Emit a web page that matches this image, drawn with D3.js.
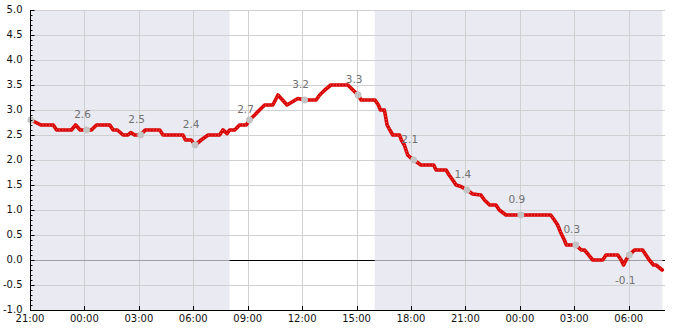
<!DOCTYPE html>
<html>
<head>
<meta charset="utf-8">
<script src="https://cdn.jsdelivr.net/npm/d3@7"></script>
<style>
  html, body { margin: 0; padding: 0; background: #fff; }
  svg { display: block; font-family: "DejaVu Sans", sans-serif; }
</style>
</head>
<body>
<svg id="chart" width="685" height="330"></svg>
<script>
// ---- data ----
const lineTimes = [
  "01-01 21:03","01-01 21:36","01-01 22:17","01-01 22:28","01-01 23:17","01-01 23:31","01-01 23:46",
  "01-02 00:23","01-02 00:40","01-02 01:24","01-02 01:35","01-02 01:49","01-02 02:08","01-02 02:24",
  "01-02 02:33","01-02 02:46","01-02 03:06","01-02 03:21","01-02 04:09","01-02 04:20","01-02 05:26",
  "01-02 05:34","01-02 05:53","01-02 06:06","01-02 06:26","01-02 06:49","01-02 07:27","01-02 07:38",
  "01-02 07:52","01-02 08:00","01-02 08:17","01-02 08:33","01-02 08:55","01-02 09:06","01-02 09:23",
  "01-02 09:39","01-02 09:56","01-02 10:23","01-02 10:40","01-02 11:10","01-02 11:46","01-02 12:08",
  "01-02 12:46","01-02 12:58","01-02 13:15","01-02 13:35","01-02 14:31","01-02 15:05","01-02 15:15",
  "01-02 16:01","01-02 16:12","01-02 16:19","01-02 16:32","01-02 16:35","01-02 16:41","01-02 16:50",
  "01-02 17:00","01-02 17:22","01-02 17:28","01-02 17:38","01-02 17:49","01-02 17:58","01-02 18:09",
  "01-02 18:33","01-02 19:15","01-02 19:23","01-02 19:56","01-02 20:06","01-02 20:18","01-02 20:29",
  "01-02 20:45","01-02 21:05","01-02 21:24","01-02 21:51","01-02 22:03","01-02 22:20","01-02 22:41",
  "01-02 22:52","01-02 23:14",
  "01-03 01:42","01-03 01:54","01-03 02:05","01-03 02:15","01-03 02:27","01-03 02:34","01-03 03:05",
  "01-03 03:23","01-03 03:34","01-03 04:01","01-03 04:34","01-03 04:45","01-03 05:24","01-03 05:35",
  "01-03 05:43","01-03 05:51","01-03 06:02","01-03 06:19","01-03 06:46","01-03 06:57","01-03 07:08",
  "01-03 07:22","01-03 07:30","01-03 07:51"
];
const lineValues = [
  2.8,2.7,2.7,2.6,2.6,2.7,2.6,
  2.6,2.7,2.7,2.6,2.6,2.5,2.5,
  2.55,2.5,2.5,2.6,2.6,2.5,2.5,
  2.4,2.4,2.3,2.4,2.5,2.5,2.6,
  2.53,2.6,2.6,2.7,2.7,2.8,2.9,
  3.0,3.1,3.1,3.3,3.1,3.23,3.2,
  3.2,3.3,3.4,3.5,3.5,3.3,3.2,
  3.2,3.1,3.0,3.0,2.9,2.7,2.6,
  2.5,2.5,2.4,2.3,2.1,2.05,2.0,
  1.9,1.9,1.8,1.8,1.7,1.6,1.5,
  1.47,1.4,1.32,1.3,1.2,1.1,1.1,
  1.0,0.9,
  0.9,0.8,0.7,0.55,0.4,0.3,0.3,
  0.2,0.2,0.0,0.0,0.1,0.1,0.0,
  -0.1,0.0,0.1,0.2,0.2,0.1,0.0,
  -0.1,-0.1,-0.2
];
// marker points (grey dots) and their labels
const markTimes  = ["01-01 21:03","01-02 00:07","01-02 03:06","01-02 06:06","01-02 09:06","01-02 12:08",
                    "01-02 15:05","01-02 18:09","01-02 21:05","01-03 00:03","01-03 03:05","01-03 06:02"];
const markValues = [2.8, 2.6, 2.5, 2.3, 2.8, 3.2, 3.3, 2.0, 1.4, 0.9, 0.3, 0.1];
const markLabels = [null, 2.6, 2.5, 2.4, 2.7, 3.2, 3.3, 2.1, 1.4, 0.9, 0.3, -0.1];
// shaded periods
const shadeStarts = ["01-01 21:00", "01-02 16:00"];
const shadeEnds   = ["01-02 08:00", "01-03 07:51"];
const domainStart = "01-01 21:00";
const domainEnd   = "01-03 08:00";
const yMin = -1.0, yMax = 5.0;

// ---- layout ----
const W = 685, H = 330;
const margin = { left: 30, right: 20, top: 10, bottom: 20 };
const parse = d3.timeParse("%m-%d %H:%M");
const fmt1 = v => d3.format(".1f")(v).replace("\u2212", "-");

const svg = d3.select("#chart");
const x = d3.scaleTime()
  .domain([parse(domainStart), parse(domainEnd)])
  .range([margin.left, W - margin.right]);
const y = d3.scaleLinear()
  .domain([yMin, yMax])
  .range([H - margin.bottom, margin.top]);

const line = lineTimes.map((t, i) => ({ t: parse(t), v: lineValues[i] }));
const marks = markTimes.map((t, i) => ({ t: parse(t), v: markValues[i], lab: markLabels[i] }));
const shades = shadeStarts.map((s, i) => ({ s: parse(s), e: parse(shadeEnds[i]) }));

// shaded bands
svg.append("g").selectAll("rect").data(shades).join("rect")
  .attr("x", d => x(d.s)).attr("width", d => x(d.e) - x(d.s))
  .attr("y", margin.top).attr("height", H - margin.bottom - margin.top)
  .attr("fill", "#eaeaf2");

// grid
const xTicks = d3.timeHour.every(3).range(parse(domainStart), d3.timeMinute.offset(parse(domainEnd), 1));
const yMajor = d3.range(0, 13).map(i => +(yMin + i * 0.5).toFixed(1));
const yMinor = d3.range(0, 61).map(i => +(yMin + i * 0.1).toFixed(1)).filter(v => !yMajor.includes(v));

const grid = svg.append("g");
grid.selectAll("line.h").data(yMajor.filter(v => v !== 0 && v !== yMin)).join("line")
  .attr("x1", margin.left).attr("x2", W - margin.right)
  .attr("y1", d => y(d) + 0.5).attr("y2", d => y(d) + 0.5)
  .attr("stroke", "#d0d0d3").attr("stroke-width", 1);
grid.selectAll("line.v").data(xTicks.filter((d, i) => i > 0)).join("line")
  .attr("x1", d => Math.round(x(d)) + 0.5).attr("x2", d => Math.round(x(d)) + 0.5)
  .attr("y1", margin.top).attr("y2", H - margin.bottom)
  .attr("stroke", "#d0d0d3").attr("stroke-width", 1);

// zero line: black overall, grey inside the shaded periods
svg.append("line")
  .attr("x1", margin.left).attr("x2", W - margin.right)
  .attr("y1", y(0) + 0.5).attr("y2", y(0) + 0.5)
  .attr("stroke", "#000");
svg.append("g").selectAll("line").data(shades).join("line")
  .attr("x1", d => x(d.s)).attr("x2", d => x(d.e))
  .attr("y1", y(0) + 0.5).attr("y2", y(0) + 0.5)
  .attr("stroke", "#a0a0a4");

// series line
const lineGen = d3.line().x(d => x(d.t)).y(d => y(d.v));
svg.append("path").datum(line)
  .attr("d", lineGen).attr("fill", "none")
  .attr("stroke", "#d80000").attr("stroke-width", 3.6)
  .attr("stroke-linejoin", "round").attr("stroke-linecap", "round");
svg.append("path").datum(line)
  .attr("d", lineGen).attr("fill", "none")
  .attr("stroke", "#ff8a8a").attr("stroke-width", 0.9)
  .attr("stroke-dasharray", "1 2.2");

// marker dots
svg.append("g").selectAll("circle").data(marks).join("circle")
  .attr("cx", d => x(d.t)).attr("cy", d => y(d.v)).attr("r", 3.4)
  .attr("fill", "#c4c4c4");

// labels
svg.append("g").selectAll("text").data(marks.filter(d => d.lab !== null)).join("text")
  .attr("x", d => x(d.t) - 4)
  .attr("y", d => d.lab < 0 ? y(d.lab) + 19 : y(d.lab) - 12.5)
  .attr("text-anchor", "middle")
  .attr("font-size", 10.5).attr("fill", "#707070")
  .text(d => fmt1(d.lab));

// axes
const yAxis = svg.append("g");
yAxis.append("line")
  .attr("x1", margin.left + 0.5).attr("x2", margin.left + 0.5)
  .attr("y1", margin.top).attr("y2", H - margin.bottom + 0.5)
  .attr("stroke", "#000");
yAxis.selectAll("line.maj").data(yMajor).join("line")
  .attr("x1", margin.left).attr("x2", margin.left + 4.5)
  .attr("y1", d => y(d) + 0.5).attr("y2", d => y(d) + 0.5).attr("stroke", "#000");
yAxis.selectAll("line.min").data(yMinor).join("line")
  .attr("x1", margin.left).attr("x2", margin.left + 2.5)
  .attr("y1", d => y(d) + 0.5).attr("y2", d => y(d) + 0.5).attr("stroke", "#000");
yAxis.selectAll("text").data(yMajor).join("text")
  .attr("x", margin.left - 7.5).attr("y", d => y(d) + 3)
  .attr("text-anchor", "end").attr("font-size", 10).attr("fill", "#111")
  .text(d => fmt1(d));

const xAxis = svg.append("g");
xAxis.append("line")
  .attr("x1", margin.left).attr("x2", W - margin.right)
  .attr("y1", H - margin.bottom + 0.5).attr("y2", H - margin.bottom + 0.5)
  .attr("stroke", "#000");
xAxis.selectAll("line.t").data(xTicks).join("line")
  .attr("x1", d => Math.round(x(d)) + 0.5).attr("x2", d => Math.round(x(d)) + 0.5)
  .attr("y1", H - margin.bottom - 4).attr("y2", H - margin.bottom)
  .attr("stroke", "#000");
xAxis.selectAll("text").data(xTicks).join("text")
  .attr("x", d => x(d)).attr("y", H - margin.bottom + 11.5)
  .attr("text-anchor", "middle").attr("font-size", 10).attr("fill", "#111")
  .text(d => d3.timeFormat("%H:%M")(d));
</script>
</body>
</html>
